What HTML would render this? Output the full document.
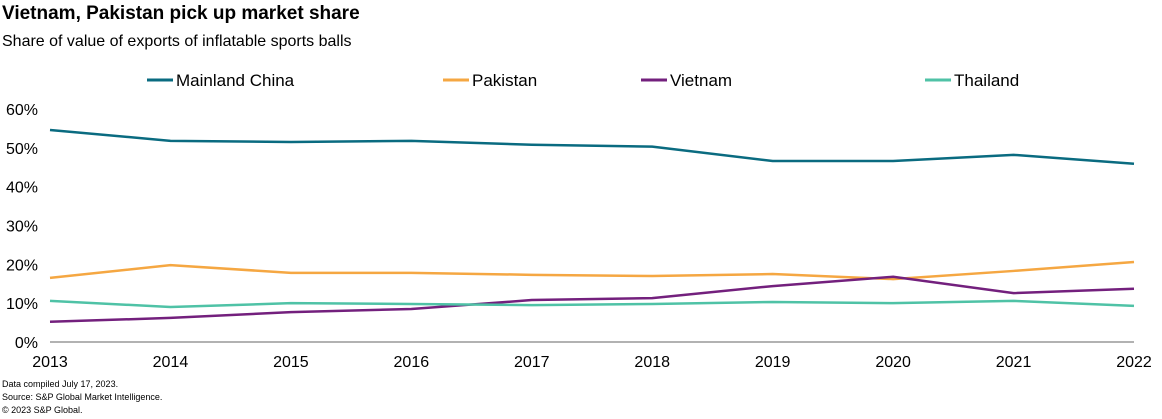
<!DOCTYPE html>
<html><head><meta charset="utf-8"><style>
body{margin:0;background:#fff;font-family:"Liberation Sans",Arial,sans-serif;width:1162px;height:419px;overflow:hidden;position:relative}
.t{position:absolute;left:2px;top:3px;font-size:19px;font-weight:bold;color:#000}
.s{position:absolute;left:2px;top:33px;font-size:16px;color:#000}
.f{position:absolute;left:2px;font-size:9px;color:#000}
</style></head><body>
<div class="t">Vietnam, Pakistan pick up market share</div>
<div class="s">Share of value of exports of inflatable sports balls</div>
<svg id="c" width="1162" height="419" style="position:absolute;left:0;top:0"></svg>
<div class="f" style="top:379px">Data compiled July 17, 2023.</div>
<div class="f" style="top:392px">Source: S&amp;P Global Market Intelligence.</div>
<div class="f" style="top:405px">© 2023 S&amp;P Global.</div>
<script>
const years=["2013","2014","2015","2016","2017","2018","2019","2020","2021","2022"];
const yTicks=[0,10,20,30,40,50,60];
const seriesNames=["Mainland China","Pakistan","Vietnam","Thailand"];
const china=[54.6,51.8,51.5,51.8,50.8,50.3,46.6,46.6,48.2,45.9];
const pakistan=[16.5,19.8,17.8,17.8,17.3,17.0,17.5,16.2,18.3,20.6];
const vietnam=[5.2,6.2,7.7,8.5,10.8,11.3,14.4,16.8,12.6,13.7];
const thailand=[10.6,9.0,10.0,9.8,9.5,9.8,10.3,10.0,10.6,9.3];
const colors=["#0a6b80","#f5a742","#73207d","#4fc2a6"];
const svg=document.getElementById('c');const NS="http://www.w3.org/2000/svg";
const x0=50,x1=1134,y0=342,y1=109;
const X=i=>x0+(x1-x0)*i/(years.length-1);
const Y=v=>y0-(y0-y1)*v/60;
function mk(t,a){const e=document.createElementNS(NS,t);for(const k in a)e.setAttribute(k,a[k]);svg.appendChild(e);return e;}
yTicks.forEach(v=>{const e=mk('text',{x:38,y:Y(v)+6,'text-anchor':'end','font-size':16,fill:'#000'});e.textContent=v+'%';

});
years.forEach((y,i)=>{const e=mk('text',{x:X(i),y:367,'text-anchor':'middle','font-size':16,fill:'#000'});e.textContent=y;

});
const ax=mk('line',{x1:x0,x2:x1,y1:y0,y2:y0,stroke:'#666','stroke-width':1});


const data=[china,pakistan,vietnam,thailand];
data.forEach((d,s)=>{const p=mk('polyline',{points:d.map((v,i)=>X(i)+','+Y(v)).join(' '),fill:'none',stroke:colors[s],'stroke-width':2.5});

});
const lx=[147,443,641,925];
seriesNames.forEach((n,s)=>{const l=mk('line',{x1:lx[s],x2:lx[s]+26,y1:80,y2:80,stroke:colors[s],'stroke-width':3});


const t=mk('text',{x:lx[s]+29,y:86,'font-size':17,fill:'#000'});t.textContent=n;

});
</script>
</body></html>
